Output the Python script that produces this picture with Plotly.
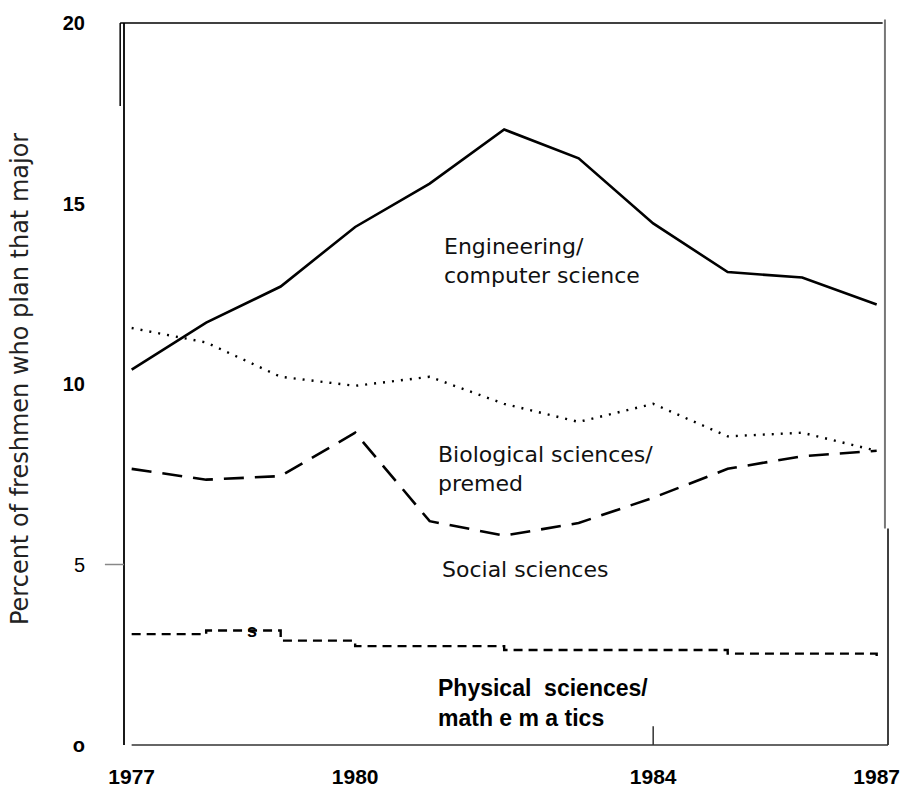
import plotly.graph_objects as go

years = [1977, 1978, 1979, 1980, 1981, 1982, 1983, 1984, 1985, 1986, 1987]
engineering = [10.4, 11.7, 12.7, 14.35, 15.55, 17.05, 16.25, 14.45, 13.1, 12.95, 12.2]
biological = [11.55, 11.15, 10.2, 9.95, 10.2, 9.45, 8.95, 9.45, 8.55, 8.65, 8.15]
social = [7.65, 7.35, 7.45, 8.65, 6.2, 5.8, 6.15, 6.85, 7.65, 8.0, 8.15]
physical = [3.07, 3.17, 2.89, 2.74, 2.74, 2.63, 2.63, 2.63, 2.53, 2.53, 2.3]

y_ticks = [0, 5, 10, 15, 20]
y_ticktext = ["<b>o</b>", "5", "<b>10</b>", "<b>15</b>", "<b>20</b>"]
x_ticks = [1977, 1980, 1984, 1987]
x_ticktext = ["1977", "1980", "1984", "1987"]

fig = go.Figure()
fig.add_trace(go.Scatter(x=years, y=engineering, mode="lines",
                         line=dict(color="black", width=2.6), cliponaxis=False))
fig.add_trace(go.Scatter(x=years, y=biological, mode="lines",
                         line=dict(color="black", width=2.4, dash="2px,7px"), cliponaxis=False))
fig.add_trace(go.Scatter(x=years, y=social, mode="lines",
                         line=dict(color="black", width=2.6, dash="20px,11px"), cliponaxis=False))
fig.add_trace(go.Scatter(x=years, y=physical, mode="lines", line_shape="hv",
                         line=dict(color="black", width=2.4, dash="9px,6px"), cliponaxis=False))

label_font = dict(family="DejaVu Sans", size=22, color="#111")
bold_font = dict(family="Liberation Sans", size=23, color="black", weight="bold")
labels = [
    ("Engineering/<br>computer science", 1981.17, 14.2, label_font),
    ("Biological sciences/<br>premed", 1981.08, 8.45, label_font),
    ("Social sciences", 1981.14, 5.25, label_font),
    ("Physical  sciences/<br>math e m a tics", 1981.08, 2.0, bold_font),
]
for text, x, y, f in labels:
    fig.add_annotation(text=text, x=x, y=y, xref="x", yref="y", xanchor="left", yanchor="top",
                       align="left", showarrow=False, font=f)

fig.add_annotation(text="<b>s</b>", x=1978.61, y=3.17, xref="x", yref="y", xanchor="center", yanchor="middle",
                   showarrow=False, font=dict(family="Liberation Sans", size=18, color="black"))

fig.add_annotation(text="Percent of freshmen who plan that major", xref="paper", yref="paper",
                   x=-0.136, y=0.507, xanchor="center", yanchor="middle", textangle=-90,
                   showarrow=False, font=dict(family="DejaVu Sans", size=24, color="#222"))

shapes = [
    dict(type="line", xref="paper", yref="paper", x0=-0.005, x1=-0.005, y0=1.0, y1=0.885, line=dict(color="black", width=1.5)),
    dict(type="line", xref="paper", yref="paper", x0=0.996, x1=0.996, y0=0.30, y1=1.005, line=dict(color="#777", width=2)),
    dict(type="line", xref="paper", yref="paper", x0=1.0, x1=1.0, y0=0.0, y1=0.30, line=dict(color="black", width=1.5)),
    dict(type="line", xref="paper", yref="paper", x0=-0.005, x1=0.993, y0=1.0, y1=1.0, line=dict(color="black", width=1.5)),
    dict(type="line", xref="paper", yref="paper", x0=0.01, x1=1.0, y0=0.0, y1=0.0, line=dict(color="#333", width=1.5)),
    dict(type="line", xref="paper", yref="paper", x0=0.0, x1=0.0, y0=0.0, y1=1.0, line=dict(color="black", width=1.8)),
    dict(type="line", xref="x", yref="paper", x0=1984, x1=1984, y0=0.0, y1=0.026, line=dict(color="#333", width=1.5)),
    dict(type="line", xref="paper", yref="y", x0=-0.025, x1=0.0, y0=5, y1=5, line=dict(color="#888", width=1.5)),
]
fig.update_layout(shapes=shapes)

fig.update_layout(
    width=924, height=800,
    margin=dict(l=124, r=36, t=13, b=45),
    paper_bgcolor="white", plot_bgcolor="white",
    showlegend=False,
    xaxis=dict(range=[1976.897, 1987.152], tickvals=x_ticks, ticktext=x_ticktext,
               showgrid=False, zeroline=False, showline=False, ticks="",
               ticklabelstandoff=17,
               tickfont=dict(family="Liberation Sans", size=21, color="black", weight="bold")),
    yaxis=dict(range=[0, 20], tickvals=y_ticks, ticktext=y_ticktext,
               showgrid=False, zeroline=False, showline=False, ticks="",
               ticklabelstandoff=38,
               tickfont=dict(family="Liberation Sans", size=20, color="black")),
)

fig.write_html("out.html", config={"displayModeBar": False},
               post_script="document.body.style.margin='0';")
